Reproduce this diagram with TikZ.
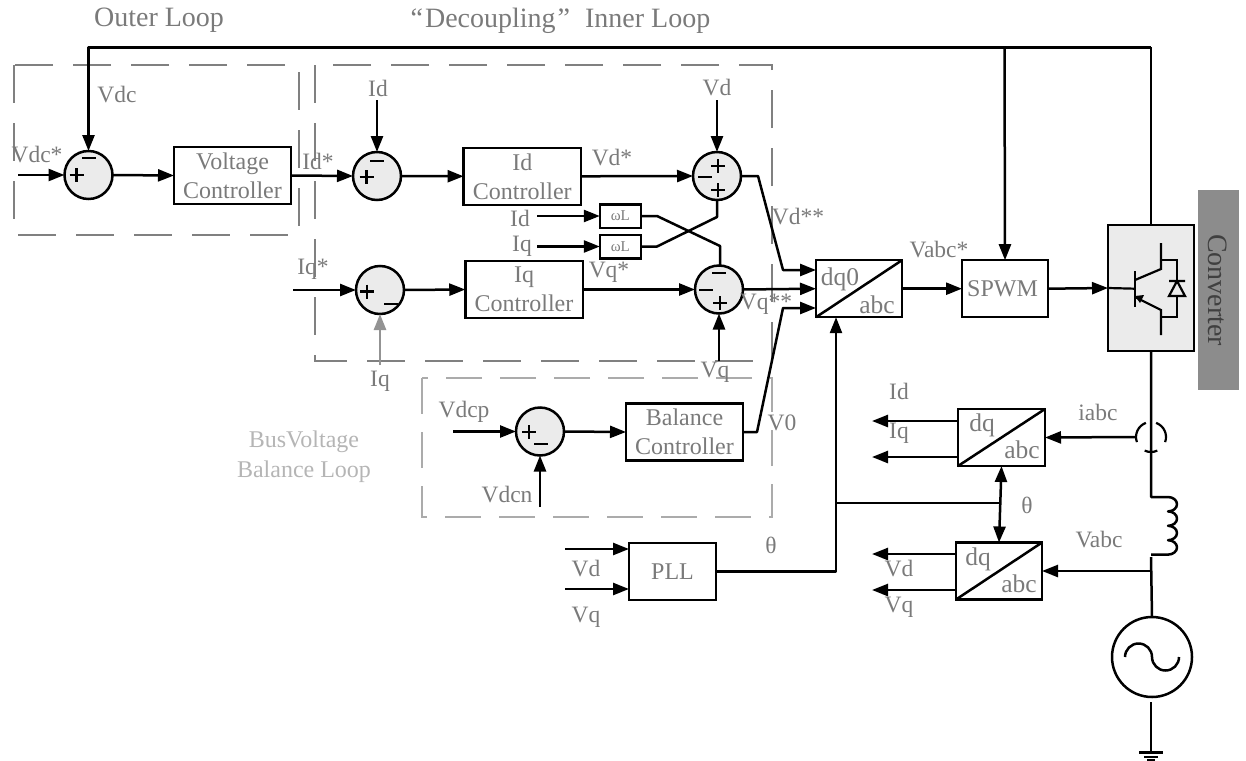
\documentclass[tikz,border=0pt]{standalone}
\usepackage{fontspec}
\setmainfont{Liberation Serif}
\usetikzlibrary{arrows.meta}
\definecolor{txt}{HTML}{7A7A7A}
\definecolor{txtl}{HTML}{B5B5B5}
\definecolor{dashd}{HTML}{808080}
\definecolor{dashl}{HTML}{ABABAB}
\definecolor{sumfill}{HTML}{EBEBEB}
\definecolor{conv}{HTML}{8C8C8C}
\newcommand{\plusmark}[2]{\draw[sgn] ({#1-7},#2) -- ({#1+7},#2) ({#1},{#2-7}) -- ({#1},{#2+7});}
\newcommand{\minusmark}[2]{\draw[sgn] ({#1-7},#2) -- ({#1+7},#2);}
\tikzset{
  x=1pt,y=-1pt,
  wire/.style={line width=2.5pt,draw=black,line join=round},
  arr/.style={wire,-{Triangle[length=16pt,width=12pt]}},
  arrg/.style={line width=2.5pt,draw=gray!85,-{Triangle[length=16pt,width=12pt]}},
  barr/.style={wire,{Triangle[length=16pt,width=12pt]}-{Triangle[length=16pt,width=12pt]}},
  sgn/.style={line width=2.2pt,draw=black},
  thin wire/.style={line width=2.2pt,draw=black},
  blk/.style={draw=black,line width=2.5pt,inner sep=0pt,outer sep=0pt,align=center,text=txt,font=\fontsize{24}{29}\selectfont},
  wl/.style={blk,minimum width=41pt,minimum height=23.5pt,font=\fontsize{15}{18}\selectfont},
  sumc/.style={circle,draw=black,fill=sumfill,line width=2.5pt,inner sep=0pt,outer sep=0pt,minimum size=48pt},
  lab/.style={text=txt,inner sep=0pt,font=\fontsize{23.5}{28}\selectfont},
  labb/.style={text=txt,inner sep=0pt,font=\fontsize{25.5}{30}\selectfont},
  tit/.style={text=txt,inner sep=0pt,font=\fontsize{28}{32}\selectfont},
  labl/.style={text=txtl,inner sep=0pt,align=center,font=\fontsize{24}{30}\selectfont},
  dbox/.style={draw=dashd,line width=2pt,dash pattern=on 38pt off 20pt},
  dboxl/.style={draw=dashl,line width=2pt,dash pattern=on 36pt off 18pt},
}
\begin{document}
\begin{tikzpicture}
\useasboundingbox (0,0) rectangle (1246,760);
% dashed loop frames
\draw[dbox] (14,65) rectangle (298.5,235);
\draw[dbox] (315,65) rectangle (772,361);
\draw[dboxl] (422,378) rectangle (772,517);
% sums
\node[sumc] (s1) at (88.5,175) {};
\node[sumc] (s2) at (377,176) {};
\node[sumc] (s3) at (380,290) {};
\node[sumc] (s4) at (717,176) {};
\node[sumc] (s5) at (719,289.5) {};
\node[sumc] (s6) at (540,431.5) {};
% blocks
\node[blk,minimum width=117pt,minimum height=57pt] (vc) at (232.5,175.5) {Voltage\\Controller};
\node[blk,minimum width=117.5pt,minimum height=57pt] (idc) at (522.3,176.3) {Id\\Controller};
\node[blk,minimum width=117.5pt,minimum height=57pt] (iqc) at (524,289.5) {Iq\\Controller};
\node[blk,minimum width=117pt,minimum height=57pt] (bc) at (684.5,432) {Balance\\Controller};
\node[blk,minimum width=87pt,minimum height=57pt] (pll) at (672.5,571.5) {PLL};
\node[wl] (w1) at (620.3,216) {ωL};
\node[wl] (w2) at (620.3,246.5) {ωL};
\node[blk,minimum width=86pt,minimum height=57pt] (dq0) at (859,288.7) {};
\node[blk,minimum width=86pt,minimum height=57pt] (spwm) at (1005,288.7) {SPWM\hspace*{5pt}};
\node[blk,minimum width=87pt,minimum height=57pt] (dq1) at (1001.5,437.5) {};
\node[blk,minimum width=86pt,minimum height=57pt] (dq2) at (999,571) {};
\node[draw=black,fill=sumfill,line width=2.5pt,inner sep=0pt,outer sep=0pt,minimum width=86pt,minimum height=126pt] (cv) at (1151,288) {};
\node[fill=conv,draw=conv,inner sep=0pt,minimum width=40pt,minimum height=199pt] (bar) at (1218,289.5) {};
\node[rotate=-90,text=black!75,inner sep=0pt,font=\fontsize{28}{32}\selectfont] (barl) at (1218,290) {Converter};
\node[circle,draw=black,line width=2.5pt,inner sep=0pt,outer sep=0pt,minimum size=80pt] (src) at (1152,657) {};
% diagonals
\draw[wire] (dq0.south west) -- (dq0.north east);
\draw[wire] (dq1.south west) -- (dq1.north east);
\draw[wire] (dq2.south west) -- (dq2.north east);
% coordinates for free ends
\coordinate (vdcstar) at (18,175);
\coordinate (topl) at (88.5,47.5);
\coordinate (topb) at (1004.5,47.5);
\coordinate (topr) at (1151,47.5);
\coordinate (idin) at (377,100);
\coordinate (iqin) at (293,290);
\coordinate (iqfb) at (380,365);
\coordinate (vdin) at (717,100);
\coordinate (vqin) at (719,361);
\coordinate (idw) at (537,216);
\coordinate (iqw) at (537,246.5);
\coordinate (vdcpin) at (453,431.5);
\coordinate (vdcnin) at (540,507);
\coordinate (pv1) at (565,549);
\coordinate (pv2) at (565,589);
\coordinate (jn) at (836,503);
\coordinate (jr) at (1000,503);
\coordinate (ct) at (1151,437);
\coordinate (ctl) at (1136,437);
\coordinate (vj) at (1151,571);
\coordinate (o1) at (872,421);
\coordinate (o2) at (872,457);
\coordinate (o3) at (872,554);
\coordinate (o4) at (872,590);
% connectors
\draw[arr] (topr) -- (topl) -- (s1.north);
\draw[arr] (topb) -- (spwm.north);
\draw[wire] (topr) -- (cv.north);
\draw[arr] (vdcstar) -- (s1.west);
\draw[arr] (s1.east) -- (vc.west);
\draw[arr] (vc.east) -- (s2.west);
\draw[arr] (idin) -- (s2.north);
\draw[arr] (iqin) -- (s3.west);
\draw[arrg] (iqfb) -- (s3.south);
\draw[arr] (s2.east) -- (idc.west);
\draw[arr] (s3.east) -- (iqc.west);
\draw[arr] (idc.east) -- (s4.west);
\draw[arr] (iqc.east) -- (s5.west);
\draw[arr] (vdin) -- (s4.north);
\draw[arr] (vqin) -- (s5.south);
\draw[arr] (idw) -- (w1.west);
\draw[arr] (iqw) -- (w2.west);
\draw[wire] (w1.east) -- (657,216) -- (720,246) -- (s5.north -| 720,0);
\draw[wire] (w2.east) -- (657,246.5) -- (717,217) -- (s4.south);
\draw[arr] (s4.east) -- (758,176) -- (783,270) -- (816,270);
\draw[arr] (s5.east) -- (dq0.west);
\draw[arr] (bc.east) -- (757,432) -- (783,308) -- (816,308);
\draw[arr] (vdcpin) -- (s6.west);
\draw[arr] (vdcnin) -- (s6.south);
\draw[arr] (s6.east) -- (bc.west);
\draw[arr] (pv1) -- (pll.west |- pv1);
\draw[arr] (pv2) -- (pll.west |- pv2);
\draw[arr] (pll.east) -- (836,571.5) -- (dq0.south -| 836,0);
\draw[wire] (jn) -- (jr);
\draw[barr] (dq1.south) -- (dq2.north);
\draw[arr] (dq0.east) -- (spwm.west);
\draw[arr] (spwm.east) -- (cv.west);
\draw[arr] (dq1.west |- o1) -- (o1);
\draw[arr] (dq1.west |- o2) -- (o2);
\draw[arr] (dq2.west |- o3) -- (o3);
\draw[arr] (dq2.west |- o4) -- (o4);
\draw[arr] (ctl) -- (dq1.east);
\draw[arr] (vj) -- (dq2.east |- vj);
% current sensor
\draw[thin wire] (ct) ++(110:15pt) arc[start angle=110,end angle=200,radius=15pt];
\draw[thin wire] (ct) ++(70:15pt) arc[start angle=70,end angle=-20,radius=15pt];
\draw[thin wire] (ct) ++(245:15pt) arc[start angle=245,end angle=295,radius=15pt];
% grid side
\draw[wire] (cv.south) -- (1151,497) -- (1168,497)
  arc[start angle=90,end angle=-90,x radius=9pt,y radius=7.2pt]
  arc[start angle=90,end angle=-90,x radius=9pt,y radius=7.2pt]
  arc[start angle=90,end angle=-90,x radius=9pt,y radius=7.2pt]
  arc[start angle=90,end angle=-90,x radius=9pt,y radius=7.2pt]
  -- (1151,554.6);
\draw[wire] (1151,557) -- (src.north);
\draw[wire] (1125,657) arc[start angle=180,end angle=0,radius=13.5pt] arc[start angle=180,end angle=360,radius=13.5pt];
\draw[wire] (1151,702) -- (1151,752);
\draw[wire] (1139,752.5) -- (1163,752.5);
\draw[wire] (1144,757) -- (1158,757);
\draw[wire] (1147,760) -- (1155,760);
% IGBT and diode
\draw[thin wire] (cv.west) -- (1135,288.7);
\draw[wire] (1135,271) -- (1135,307);
\draw[thin wire] (1135,280) -- (1161,269) -- (1161,243);
\draw[thin wire] (1161,335) -- (1161,310) -- (1135,297);
\fill (1135,296) -- (1144,295) -- (1140,303) -- cycle;
\draw[thin wire] (1161,260) -- (1177,260) -- (1177,317) -- (1161,317);
\draw[thin wire,fill=sumfill] (1169,281) -- (1185,281) (1177,281) -- (1169,296) -- (1185,296) -- cycle;
% sign marks
\plusmark{76.5}{175}\minusmark{89}{158}
\plusmark{366.5}{177}\minusmark{377}{161}
\plusmark{367}{291.5}\minusmark{391}{304}
\plusmark{718}{166}\plusmark{718}{190}\minusmark{705}{177}
\plusmark{720}{303}\minusmark{719}{273}\minusmark{706}{290}
\plusmark{529}{432}\minusmark{541}{444}
% labels
\node[tit] (t1) at (159,20) {Outer Loop};
\node[tit] (t2) at (560.5,21) {“\hspace{2pt}Decoupling\hspace{2pt}”\hspace{15pt}Inner Loop};
\node[labl] (t3) at (304,457) {BusVoltage\\Balance Loop};
\node[lab] (l1) at (117,95) {Vdc};
\node[lab] (l2) at (37,155) {Vdc*};
\node[lab] (l3) at (318,161) {Id*};
\node[lab] (l4) at (378,88) {Id};
\node[lab] (l5) at (313,269) {Iq*};
\node[lab] (l6) at (380,381) {Iq};
\node[lab] (l7) at (717,88) {Vd};
\node[lab] (l8) at (612,158) {Vd*};
\node[lab] (l9) at (609,272) {Vq*};
\node[lab] (l10) at (520,218) {Id};
\node[lab] (l11) at (522,246) {Iq};
\node[lab] (l12) at (798,217) {Vd**};
\node[lab] (l13) at (766,304) {Vq**};
\node[lab] (l14) at (715,372) {Vq};
\node[lab] (l15) at (464,412) {Vdcp};
\node[lab] (l16) at (507,495) {Vdcn};
\node[lab] (l17) at (782,423) {V0};
\node[lab] (l18) at (586,569) {Vd};
\node[lab] (l19) at (586,617) {Vq};
\node[lab] (l20) at (771,545) {θ};
\node[lab] (l21) at (939,250) {Vabc*};
\node[labb] (l22) at (840,279) {dq0};
\node[labb] (l23) at (877,305) {abc};
\node[labb] (l24) at (982,425) {dq};
\node[labb] (l25) at (1022,450) {abc};
\node[labb] (l26) at (978,559) {dq};
\node[labb] (l27) at (1019,584) {abc};
\node[lab] (l28) at (899,391) {Id};
\node[lab] (l29) at (899,433) {Iq};
\node[lab] (l30) at (899,569) {Vd};
\node[lab] (l31) at (899,607) {Vq};
\node[lab] (l32) at (1098,412) {iabc};
\node[lab] (l33) at (1099,540) {Vabc};
\node[lab] (l34) at (1027,505) {θ};
\end{tikzpicture}
\end{document}
